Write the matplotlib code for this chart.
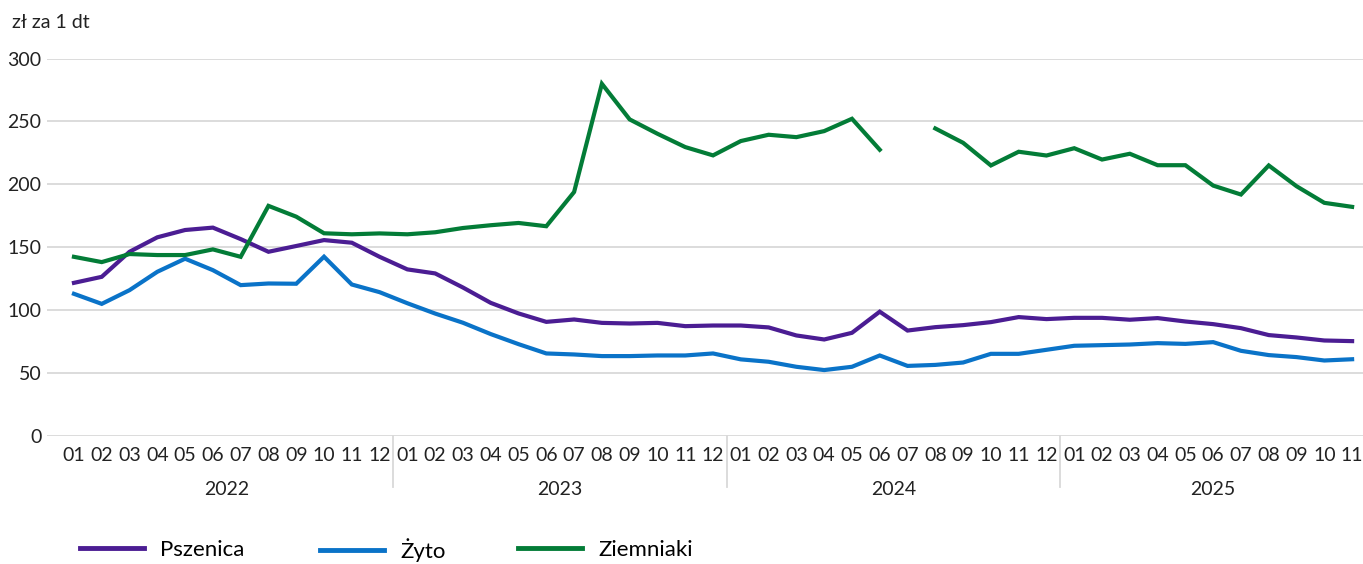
import numpy as np
import matplotlib
matplotlib.use("Agg")
import matplotlib.pyplot as plt
from matplotlib.lines import Line2D

plt.rcParams['font.family'] = ['Lato', 'DejaVu Sans']

# data: monthly prices, 2022-01 .. 2025-11
years = ["2022", "2023", "2024", "2025"]
months = ["01", "02", "03", "04", "05", "06", "07", "08", "09", "10", "11", "12"]
month_labels = (months * 4)[:47]

pszenica = [121.7, 126.5, 146.4, 157.9, 163.7, 165.6, 156.5, 146.4, 151.0, 155.7, 153.6, 142.4,
            132.4, 129.2, 118.0, 105.8, 97.4, 90.7, 92.6, 89.9, 89.4, 89.9, 87.3, 87.8,
            87.8, 86.3, 79.9, 76.7, 82.0, 98.8, 83.8, 86.5, 88.1, 90.5, 94.5, 92.9,
            93.9, 93.9, 92.4, 93.7, 91.0, 88.9, 85.7, 80.2, 78.3, 75.9, 75.4]
zyto = [113.0, 105.0, 115.9, 130.5, 140.9, 131.8, 119.9, 121.2, 121.0, 142.5, 120.4, 114.3,
        105.5, 97.3, 90.0, 81.0, 73.0, 65.6, 64.8, 63.5, 63.5, 64.0, 64.0, 65.6,
        60.9, 59.0, 55.0, 52.4, 55.0, 64.0, 55.7, 56.5, 58.4, 65.3, 65.3, 68.5,
        71.7, 72.2, 72.7, 73.8, 73.2, 74.6, 67.7, 64.3, 62.7, 60.0, 61.0]
ziemniaki = [142.4, 138.2, 144.6, 143.8, 143.8, 148.3, 142.4, 182.9, 174.3, 161.1, 160.3, 161.0,
             160.3, 161.9, 165.3, 167.5, 169.3, 166.7, 193.9, 279.9, 251.6, 240.2, 229.6, 223.0,
             234.4, 239.4, 237.5, 242.3, 252.1, 227.5, np.nan, 244.4, 233.0, 215.0, 225.9, 222.9,
             228.7, 219.7, 224.3, 215.2, 215.2, 199.0, 191.9, 215.0, 198.5, 185.3, 182.1]

series = [("Pszenica", pszenica, "#4b1d93"),
          ("Żyto", zyto, "#0a73c8"),
          ("Ziemniaki", ziemniaki, "#037c37")]

W, H = 1363, 564
fig = plt.figure(figsize=(W / 100, H / 100), dpi=100)
ax = fig.add_axes([47 / W, (H - 436) / H, (1366 - 47) / W, (436 - 58.5) / H])

x = np.arange(len(month_labels))
for name, vals, col in series:
    ax.plot(x, vals, color=col, lw=3.0, solid_joinstyle='miter', label=name)

ax.set_xlim(-0.97, 46.5)
ax.set_ylim(0, 300)
ax.set_yticks(range(0, 301, 50))
ax.grid(axis='y', color='#d9d9d9', lw=1.3)
ax.set_axisbelow(True)
for s in ax.spines.values():
    s.set_visible(False)
ax.set_xticks(x)
ax.set_xticklabels(month_labels)
ax.tick_params(axis='both', length=0, labelsize=14, colors='#222222')
ax.tick_params(axis='x', pad=8)
ax.tick_params(axis='y', pad=4)

trans = ax.get_xaxis_transform()
for i, yr in enumerate(years):
    start = i * 12
    end = min(start + 11, len(month_labels) - 1)
    ax.text((start + end) / 2, -0.142, yr, transform=trans, ha='center', va='center',
            fontsize=14, color='#222222')
    if i > 0:
        ax.plot([start - 0.5, start - 0.5], [0, -0.135], transform=trans, color='#d9d9d9',
                lw=1.3, clip_on=False)

fig.text(12 / W, 1 - 22 / H, "zł za 1 dt", fontsize=14, color='#222222', va='center', ha='left')

leg_x = [80, 320, 518]
for (name, vals, col), lx in zip(series, leg_x):
    h = Line2D([], [], color=col, lw=3.5)
    fig.legend(handles=[h], labels=[name], loc='center left',
               bbox_to_anchor=(lx / W, 1 - 550 / H), frameon=False, fontsize=16,
               handlelength=2.9, handletextpad=0.7, borderpad=0, borderaxespad=0)

fig.savefig("out.png", dpi=100)
